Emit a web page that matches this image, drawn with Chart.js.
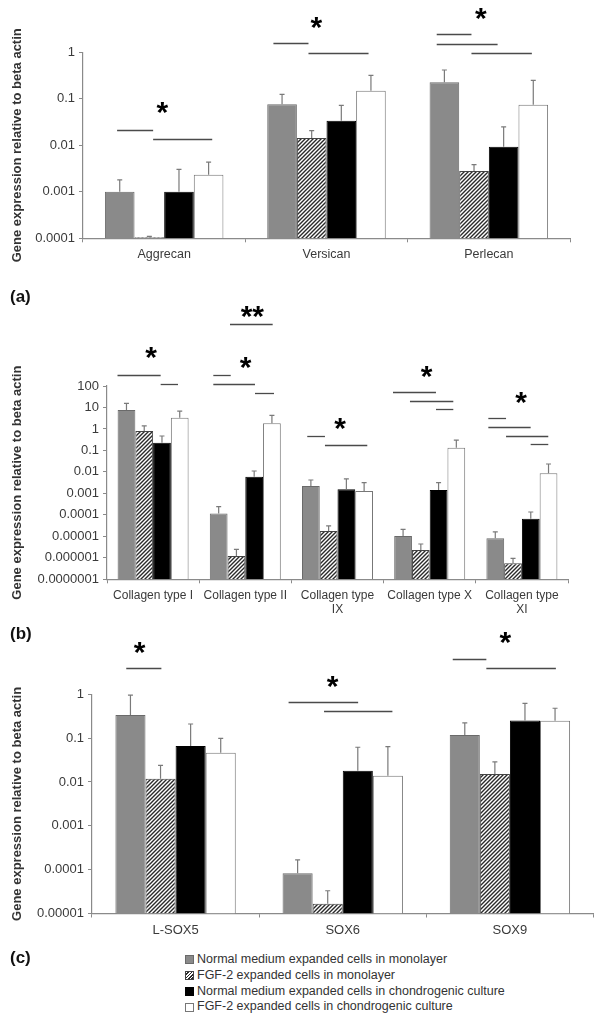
<!DOCTYPE html>
<html><head><meta charset="utf-8">
<script src="https://cdn.jsdelivr.net/npm/chart.js@4/dist/chart.umd.min.js"></script>
<style>
html,body{margin:0;padding:0;background:#fff;}
#page{position:relative;width:600px;height:1024px;overflow:hidden;font-family:"Liberation Sans",Arial,sans-serif;}
canvas{position:absolute;left:0;}
.plabel{position:absolute;left:10px;font:bold 17px "Liberation Sans",Arial,sans-serif;color:#111;}
#legend{position:absolute;left:185px;top:952px;font:12.5px "Liberation Sans",Arial,sans-serif;color:#333;}
.li{height:15.8px;line-height:15.8px;display:flex;align-items:center;white-space:nowrap;}
.box{width:9px;height:9px;border:1px solid #666;margin-right:3px;box-sizing:border-box;}
</style></head>
<body><div id="page">
<canvas id="ca" width="600" height="280" style="top:0px"></canvas>
<canvas id="cb" width="600" height="320" style="top:300px"></canvas>
<canvas id="cc" width="600" height="320" style="top:630px"></canvas>
<div class="plabel" style="top:287px">(a)</div>
<div class="plabel" style="top:624px">(b)</div>
<div class="plabel" style="top:948px">(c)</div>
<div id="legend"></div>
</div>
<script>
// ---------- DATA ----------
const seriesNames = ['Normal medium expanded cells in monolayer','FGF-2 expanded cells in monolayer','Normal medium expanded cells in chondrogenic culture','FGF-2 expanded cells in chondrogenic culture'];
const yTitle = 'Gene expression relative to beta actin';

// Panel (a)
const categoriesA = ['Aggrecan','Versican','Perlecan'];
const normalMonoA = [0.001, 0.076, 0.226];
const fgfMonoA = [0.000105, 0.0144, 0.0028];
const normalChondroA = [0.001, 0.0338, 0.0093];
const fgfChondroA = [0.00233, 0.149, 0.0747];
const normalMonoErrA = [0.0008, 0.049, 0.19];
const fgfMonoErrA = [0.000005, 0.0062, 0.00103];
const normalChondroErrA = [0.00205, 0.0387, 0.0155];
const fgfChondroErrA = [0.002, 0.171, 0.175];
const yTicksA = ['0.0001','0.001','0.01','0.1','1'];

// Panel (b)
const categoriesB = ['Collagen type I','Collagen type II',['Collagen type','IX'],'Collagen type X',['Collagen type','XI']];
const normalMonoB = [7.6, 0.000117, 0.0022, 0.0000104, 0.0000081];
const fgfMonoB = [0.8, 0.0000012, 0.0000177, 0.0000023, 0.00000056];
const normalChondroB = [0.23, 0.006, 0.00155, 0.00144, 0.000066];
const fgfChondroB = [3.3, 1.83, 0.0013, 0.134, 0.0086];
const normalMonoErrB = [8, 0.000123, 0.002, 0.0000106, 0.0000079];
const fgfMonoErrB = [0.6, 0.0000013, 0.0000133, 0.0000021, 0.00000039];
const normalChondroErrB = [0.24, 0.005, 0.00315, 0.00176, 0.00007];
const fgfChondroErrB = [3.5, 2.47, 0.0019, 0.171, 0.0147];
const yTicksB = ['0.0000001','0.000001','0.00001','0.0001','0.001','0.01','0.1','1','10','100'];

// Panel (c)
const categoriesC = ['L-SOX5','SOX6','SOX9'];
const normalMonoC = [0.336, 0.000083, 0.118];
const fgfMonoC = [0.0119, 0.0000166, 0.0152];
const normalChondroC = [0.066, 0.018, 0.254];
const fgfChondroC = [0.0465, 0.0139, 0.249];
const normalMonoErrC = [0.624, 0.000084, 0.106];
const fgfMonoErrC = [0.0121, 0.0000164, 0.0134];
const normalChondroErrC = [0.144, 0.044, 0.366];
const fgfChondroErrC = [0.0525, 0.0501, 0.231];
const yTicksC = ['0.00001','0.0001','0.001','0.01','0.1','1'];

// significance brackets: [from category pos, to category pos, log10 of level]
const sigLinesA = [[-0.29,-0.068,-1.671],[-0.068,0.296,-1.858],[0.673,0.889,0.193],[0.889,1.259,-0.01],[1.679,1.893,0.387],[1.679,2.054,0.185],[1.893,2.265,-0.01]];
const sigStarsA = [[-0.012,-1.198,'*'],[0.938,0.624,'*'],[1.951,0.817,'*']];
const sigLinesB = [[-0.386,0.082,2.497],[0.082,0.27,2.078],[0.653,0.842,2.497],[0.653,1.105,2.078],[1.105,1.311,1.687],[0.834,1.297,4.886],[1.672,1.864,-0.315],[1.864,2.323,-0.748],[2.602,3.068,1.706],[2.786,3.256,1.287],[3.068,3.256,0.914],[3.636,3.828,0.495],[3.636,4.095,0.104],[3.828,4.286,-0.329],[4.095,4.286,-0.701]];
const sigStarsB = [[-0.023,3.52,'*'],[1.004,3.056,'*'],[1.076,5.458,'**'],[2.027,0.23,'*'],[2.967,2.665,'*'],[3.99,1.426,'*']];
const sigLinesC = [[-0.295,-0.085,0.59],[0.676,1.092,-0.171],[0.888,1.297,-0.383],[1.658,1.859,0.802],[1.859,2.275,0.59]];
const sigStarsC = [[-0.215,1.046,'*'],[0.939,0.285,'*'],[1.972,1.273,'*']];

// ---------- STYLE ----------
const FONT = '"Liberation Sans", Arial, sans-serif';
Chart.defaults.font.family = FONT;
Chart.defaults.color = '#333';

function makeHatch(){
  const c = document.createElement('canvas'); c.width = 4; c.height = 4;
  const x = c.getContext('2d');
  x.fillStyle = '#fff'; x.fillRect(0,0,4,4);
  x.strokeStyle = '#2a2a2a'; x.lineWidth = 1.4;
  x.beginPath();
  x.moveTo(0,4); x.lineTo(4,0);
  x.moveTo(-1,1); x.lineTo(1,-1);
  x.moveTo(3,5); x.lineTo(5,3);
  x.stroke();
  return x.createPattern(c,'repeat');
}
const hatch = makeHatch();
const fills = ['#8a8a8a', hatch, '#000000', '#ffffff'];
const borders = ['#6a6a6a', '#444444', '#000000', '#777777'];

const errorBarPlugin = {
  id: 'errbars',
  afterDatasetsDraw(chart){
    const ctx = chart.ctx, y = chart.scales.y;
    chart.data.datasets.forEach((ds,i)=>{
      const meta = chart.getDatasetMeta(i);
      meta.data.forEach((bar,j)=>{
        const top = y.getPixelForValue(ds.data[j] + ds.errors[j]);
        ctx.save();
        ctx.strokeStyle = '#7a7a7a'; ctx.lineWidth = 1.2;
        ctx.beginPath();
        ctx.moveTo(bar.x, bar.y); ctx.lineTo(bar.x, top);
        ctx.moveTo(bar.x-2.5, top); ctx.lineTo(bar.x+2.5, top);
        ctx.stroke(); ctx.restore();
      });
    });
  }
};
const sigPlugin = {
  id: 'sig',
  afterDraw(chart, args, opts){
    const ctx = chart.ctx, xs = chart.scales.x, ys = chart.scales.y;
    ctx.save();
    ctx.strokeStyle = '#4a4a4a'; ctx.lineWidth = 1.3;
    (opts.lines||[]).forEach(([a,b,e])=>{
      const py = Math.round(ys.getPixelForValue(Math.pow(10,e)))+0.5;
      ctx.beginPath(); ctx.moveTo(xs.getPixelForValue(a), py); ctx.lineTo(xs.getPixelForValue(b), py); ctx.stroke();
    });
    ctx.fillStyle = '#000'; ctx.font = 'bold 30px ' + FONT;
    ctx.textAlign = 'center'; ctx.textBaseline = 'alphabetic';
    (opts.stars||[]).forEach(([a,e,t])=>{
      ctx.fillText(t, xs.getPixelForValue(a), ys.getPixelForValue(Math.pow(10,e)) + 14);
    });
    ctx.restore();
  }
};

function makeChart(id, cats, vals, errs, ticks, box, catPct, lines, stars){
  const tickVals = ticks.map(Number);
  return new Chart(document.getElementById(id), {
    type: 'bar',
    data: {
      labels: cats,
      datasets: vals.map((v,i)=>({
        label: seriesNames[i], data: v, errors: errs[i],
        backgroundColor: fills[i], borderColor: borders[i], borderWidth: 1,
        categoryPercentage: catPct, barPercentage: 1
      }))
    },
    options: {
      responsive: false, animation: false, devicePixelRatio: 1,
      layout: { padding: { top: box.top, right: box.right, left: 0, bottom: 0 } },
      plugins: { legend: { display: false }, tooltip: { enabled: false },
        sig: { lines: lines, stars: stars } },
      scales: {
        x: {
          border: { color: '#8a8a8a', width: 1.2 },
          grid: { drawOnChartArea: false, drawTicks: true, tickLength: 4, color: '#8a8a8a', offset: true },
          ticks: { font: { size: box.xfs }, color: '#3a3a3a', padding: 5, maxRotation: 0, autoSkip: false },
          afterFit: s => { s.height = box.xh; }
        },
        y: {
          type: 'logarithmic', min: tickVals[0], max: tickVals[tickVals.length-1],
          border: { color: '#8a8a8a', width: 1.2 },
          grid: { drawOnChartArea: false, drawTicks: true, tickLength: 4, color: '#8a8a8a' },
          afterBuildTicks: s => { s.ticks = tickVals.map(v=>({value:v})); },
          ticks: { font: { size: 13 }, color: '#3a3a3a', padding: 4,
            callback: (v) => { const k = tickVals.findIndex(t => Math.abs(t - v) / t < 1e-6); return k >= 0 ? ticks[k] : ''; } },
          title: { display: true, text: yTitle, color: '#333', font: { size: 13, weight: 'bold' }, padding: { top: 10, bottom: 0 } },
          afterFit: s => { s.width = box.left; }
        }
      }
    },
    plugins: [errorBarPlugin, sigPlugin]
  });
}

makeChart('ca', categoriesA,
  [normalMonoA, fgfMonoA, normalChondroA, fgfChondroA],
  [normalMonoErrA, fgfMonoErrA, normalChondroErrA, fgfChondroErrA],
  yTicksA, { top: 52.3, right: 30, left: 83, xh: 41.7, xfs: 12.5 }, 0.73, sigLinesA, sigStarsA);
makeChart('cb', categoriesB,
  [normalMonoB, fgfMonoB, normalChondroB, fgfChondroB],
  [normalMonoErrB, fgfMonoErrB, normalChondroErrB, fgfChondroErrB],
  yTicksB, { top: 86, right: 32, left: 107, xh: 40.7, xfs: 12 }, 0.77, sigLinesB, sigStarsB);
const chartC = makeChart('cc', categoriesC,
  [normalMonoC, fgfMonoC, normalChondroC, fgfChondroC],
  [normalMonoErrC, fgfMonoErrC, normalChondroErrC, fgfChondroErrC],
  yTicksC, { top: 64.3, right: 6.5, left: 92, xh: 36.5, xfs: 13 }, 0.72, sigLinesC, sigStarsC);

// HTML legend built from the chart's datasets
const cssFill = ['#8a8a8a','repeating-linear-gradient(135deg,#fff 0,#fff 1.2px,#2a2a2a 1.2px,#2a2a2a 2.4px)','#000','#fff'];
const leg = document.getElementById('legend');
chartC.data.datasets.forEach((ds,i)=>{
  const row = document.createElement('div'); row.className = 'li';
  const b = document.createElement('span'); b.className = 'box';
  b.style.background = cssFill[i]; b.style.borderColor = borders[i];
  const t = document.createElement('span'); t.textContent = ds.label;
  row.appendChild(b); row.appendChild(t); leg.appendChild(row);
});
</script>
</body></html>
